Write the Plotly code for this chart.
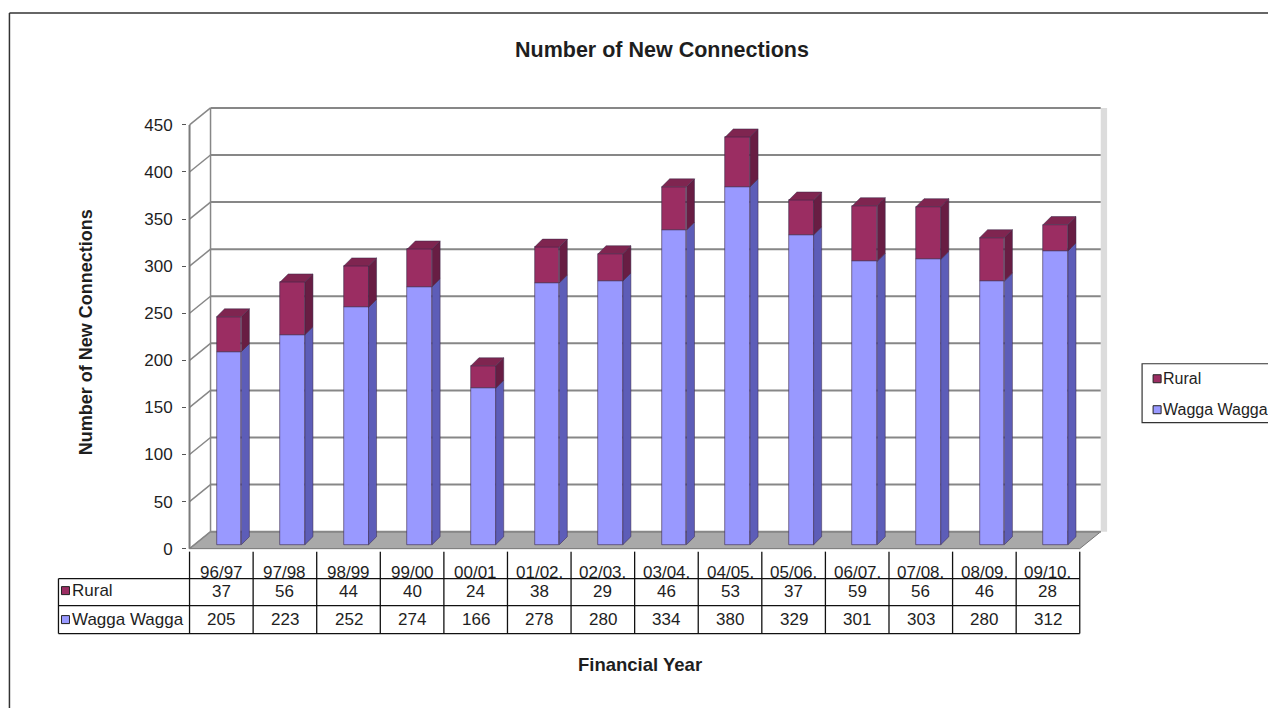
import plotly.graph_objects as go

# ---- data -------------------------------------------------------------
years = ["96/97", "97/98", "98/99", "99/00", "00/01", "01/02.", "02/03.",
         "03/04.", "04/05.", "05/06.", "06/07.", "07/08.", "08/09.", "09/10."]
rural = [37, 56, 44, 40, 24, 38, 29, 46, 53, 37, 59, 56, 46, 28]
wagga = [205, 223, 252, 274, 166, 278, 280, 334, 380, 329, 301, 303, 280, 312]
y_ticks = [0, 50, 100, 150, 200, 250, 300, 350, 400, 450]

# ---- page geometry ----------------------------------------------------
FIG_W, FIG_H = 1268, 708
KX = 63.55          # px per category
KY = 0.9422         # px per count unit
X0PX, Y0PX = 190, 549   # pixel of (x=-0.5, y=0), the front corner of the axes
XR = [-0.54, 13.96]
YR = [-2.5, 469.0]
L = X0PX - (-0.5 - XR[0]) * KX
PW = (XR[1] - XR[0]) * KX
B = FIG_H - (Y0PX + (0 - YR[0]) * KY)
PH = (YR[1] - YR[0]) * KY
T = FIG_H - B - PH
R = FIG_W - L - PW

n = len(years)
xs = list(range(n))

# 3-D look: wall/floor depth and bar depth (in data units)
DX, DY = 0.33, 18.0          # depth of the floor / walls
FX, FY = 0.12 - 0.195, 4.2   # offset of the bar front face (left edge shift)
BW = 0.39                    # bar front width
BX, BY = 0.126, 8.5          # bar depth

C_WAGGA = "#9999ff"
C_WAGGA_SIDE = "#5d5db8"
C_RURAL = "#9b2d62"
C_RURAL_SIDE = "#681d43"
C_RURAL_TOP = "#7f2550"
EDGE = "#3a2848"
GRID = "#878787"
FONT = "Liberation Sans, Arial, sans-serif"
TXT = "#1e1e1e"


def px_x(px):
    return (px - L) / PW


def px_y(py):
    return ((FIG_H - B) - py) / PH


def data_px_x(xv):
    return L + (xv - XR[0]) * KX


fig = go.Figure()

# front faces of the stacked columns
fig.add_trace(go.Bar(
    x=[i + FX + BW / 2 for i in xs], y=wagga, base=[FY] * n, width=BW,
    marker=dict(color=C_WAGGA, line=dict(color=EDGE, width=0.6)),
    name="Wagga Wagga", hoverinfo="skip"))
fig.add_trace(go.Bar(
    x=[i + FX + BW / 2 for i in xs], y=rural, base=[FY + w for w in wagga], width=BW,
    marker=dict(color=C_RURAL, line=dict(color=EDGE, width=0.6)),
    name="Rural", hoverinfo="skip"))


def side_faces(bottoms, tops):
    px, py = [], []
    for i, y0, y1 in zip(xs, bottoms, tops):
        x1 = i + FX + BW
        px += [x1, x1 + BX, x1 + BX, x1, x1, None]
        py += [y0, y0 + BY, y1 + BY, y1, y0, None]
    return px, py


def top_faces(tops):
    px, py = [], []
    for i, y1 in zip(xs, tops):
        x0 = i + FX
        x1 = x0 + BW
        px += [x0, x1, x1 + BX, x0 + BX, x0, None]
        py += [y1, y1, y1 + BY, y1 + BY, y1, None]
    return px, py


w_bot = [FY] * n
w_top = [FY + w for w in wagga]
r_top = [FY + w + r for w, r in zip(wagga, rural)]

sx, sy = side_faces(w_bot, w_top)
fig.add_trace(go.Scatter(x=sx, y=sy, mode="lines", fill="toself", fillcolor=C_WAGGA_SIDE,
                         line=dict(color=EDGE, width=0.5), hoverinfo="skip"))
sx, sy = side_faces(w_top, r_top)
fig.add_trace(go.Scatter(x=sx, y=sy, mode="lines", fill="toself", fillcolor=C_RURAL_SIDE,
                         line=dict(color=EDGE, width=0.5), hoverinfo="skip"))
tx, ty = top_faces(r_top)
fig.add_trace(go.Scatter(x=tx, y=ty, mode="lines", fill="toself", fillcolor=C_RURAL_TOP,
                         line=dict(color=EDGE, width=0.5), hoverinfo="skip"))

shapes = []
# floor
shapes.append(dict(type="path", xref="x", yref="y", layer="below",
                   path=f"M {-0.5},0 L {n - 0.5},0 L {n - 0.5 + DX},{DY} L {-0.5 + DX},{DY} Z",
                   fillcolor="#a9a9a9", line=dict(color="#777777", width=1)))
# right edge of the back wall
shapes.append(dict(type="rect", xref="x", yref="y", layer="below",
                   x0=n - 0.5 + DX, x1=n - 0.5 + DX + 0.1, y0=DY, y1=y_ticks[-1] + DY,
                   fillcolor="#dcdcdc", line=dict(width=0)))
# back wall gridlines and side wall diagonals
for v in y_ticks:
    shapes.append(dict(type="line", xref="x", yref="y", layer="below",
                       x0=-0.5 + DX, x1=n - 0.5 + DX, y0=v + DY, y1=v + DY,
                       line=dict(color=GRID, width=2)))
    shapes.append(dict(type="line", xref="x", yref="y", layer="below",
                       x0=-0.5, x1=-0.5 + DX, y0=v, y1=v + DY,
                       line=dict(color=GRID, width=1.5)))
shapes.append(dict(type="line", xref="x", yref="y", layer="below",
                   x0=-0.5 + DX, x1=-0.5 + DX, y0=DY, y1=y_ticks[-1] + DY,
                   line=dict(color=GRID, width=1.5)))
# front value axis
shapes.append(dict(type="line", xref="x", yref="y", layer="below",
                   x0=-0.5, x1=-0.5, y0=0, y1=y_ticks[-1],
                   line=dict(color="#7a7a7a", width=2)))

# outer chart frame
shapes.append(dict(type="line", xref="paper", yref="paper",
                   x0=px_x(10), x1=px_x(10), y0=px_y(13), y1=px_y(FIG_H + 5),
                   line=dict(color="#333333", width=1.5)))
shapes.append(dict(type="line", xref="paper", yref="paper",
                   x0=px_x(10), x1=px_x(FIG_W + 5), y0=px_y(13), y1=px_y(13),
                   line=dict(color="#333333", width=1.5)))

annotations = []


def label(text, px, py, size, bold=False, angle=0, xanchor="center", color=TXT):
    annotations.append(dict(
        text=f"<b>{text}</b>" if bold else text, xref="paper", yref="paper",
        x=px_x(px), y=px_y(py), xanchor=xanchor, yanchor="middle",
        showarrow=False, textangle=angle,
        font=dict(family=FONT, size=size, color=color)))


# data table: category labels sit just above the first row line
for i in xs:
    cx = data_px_x(i)
    label(years[i], cx, 573, 17)
    label(str(rural[i]), cx, 592, 17)
    label(str(wagga[i]), cx, 620, 17)

# data table grid
TBL_L = 59
ROW_Y = [579, 606, 634]
tbl_r = data_px_x(n - 0.5)
# white strip hides the lower part of the category labels under the first row line
shapes.append(dict(type="rect", xref="paper", yref="paper", layer="above",
                   x0=px_x(TBL_L), x1=px_x(tbl_r), y0=px_y(583), y1=px_y(579),
                   fillcolor="white", line=dict(width=0)))
for ry in ROW_Y:
    shapes.append(dict(type="line", xref="paper", yref="paper",
                       x0=px_x(TBL_L), x1=px_x(tbl_r), y0=px_y(ry), y1=px_y(ry),
                       line=dict(color="#111111", width=1.3)))
shapes.append(dict(type="line", xref="paper", yref="paper",
                   x0=px_x(TBL_L), x1=px_x(TBL_L), y0=px_y(ROW_Y[0]), y1=px_y(ROW_Y[-1]),
                   line=dict(color="#111111", width=1.3)))
for k in range(n + 1):
    cx = data_px_x(k - 0.5)
    shapes.append(dict(type="line", xref="paper", yref="paper",
                       x0=px_x(cx), x1=px_x(cx), y0=px_y(552), y1=px_y(ROW_Y[-1]),
                       line=dict(color="#111111", width=1.3)))


# series swatches (table row headers and legend)
def swatch(cx, cy, color, s=8):
    shapes.append(dict(type="rect", xref="paper", yref="paper",
                       x0=px_x(cx - s / 2), x1=px_x(cx + s / 2),
                       y0=px_y(cy + s / 2), y1=px_y(cy - s / 2),
                       fillcolor=color, line=dict(color="#222222", width=1)))


swatch(66, 591, C_RURAL)
swatch(66, 620, C_WAGGA)
label("Rural", 71, 591, 17, xanchor="left")
label("Wagga Wagga", 71, 620, 17, xanchor="left")

# legend box
shapes.append(dict(type="rect", xref="paper", yref="paper",
                   x0=px_x(1142), x1=px_x(FIG_W + 20), y0=px_y(423), y1=px_y(364),
                   fillcolor="white", line=dict(color="#333333", width=1.2)))
swatch(1157, 379, C_RURAL)
swatch(1157, 410, C_WAGGA)
label("Rural", 1161, 379, 16, xanchor="left")
label("Wagga Wagga", 1161, 410, 16, xanchor="left")

# titles
label("Number of New Connections", 662, 50, 21.5, bold=True)
label("Number of New Connections", 86, 332, 18, bold=True, angle=-90)
label("Financial Year", 640, 665, 18.5, bold=True)

fig.update_layout(
    width=FIG_W, height=FIG_H,
    margin=dict(l=L, r=R, t=T, b=B, pad=0),
    paper_bgcolor="white", plot_bgcolor="white",
    barmode="overlay", bargap=0, showlegend=False,
    shapes=shapes, annotations=annotations, hovermode=False,
    xaxis=dict(range=XR, visible=False, fixedrange=True),
    yaxis=dict(range=YR, tickvals=y_ticks, ticks="outside", ticklen=4,
               tickcolor="#555555", tickwidth=1, showgrid=False, zeroline=False,
               showline=False, ticklabelstandoff=6,
               tickfont=dict(family=FONT, size=17, color=TXT), fixedrange=True),
)

fig.write_html("out.html")
